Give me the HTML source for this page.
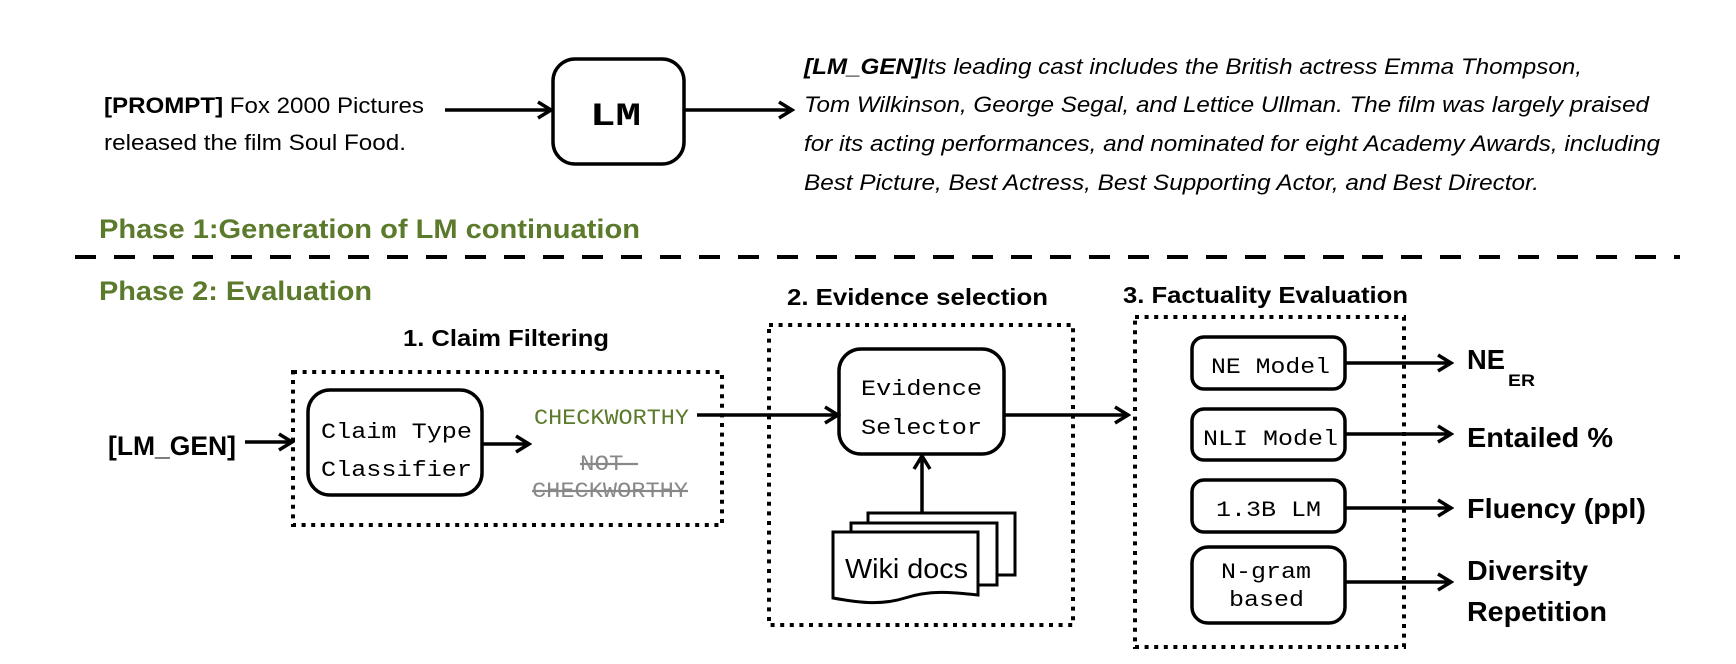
<!DOCTYPE html>
<html><head><meta charset="utf-8"><style>
html,body{margin:0;padding:0;background:#fff;}
svg{display:block;}
.s{font-family:"Liberation Sans",sans-serif;}
.m{font-family:"Liberation Mono",monospace;}
</style></head><body>
<svg width="1736" height="664" viewBox="0 0 1736 664" xmlns="http://www.w3.org/2000/svg">
<defs>
<marker id="a" markerWidth="18" markerHeight="20" refX="15" refY="10" orient="auto" markerUnits="userSpaceOnUse">
<polyline points="2,2 15,10 2,18" fill="none" stroke="#000" stroke-width="3.5"/>
</marker>
</defs>
<g fill="none" stroke="#000" stroke-width="3.5">
<rect x="553" y="59" width="131" height="105" rx="22"/>
<line x1="445" y1="110" x2="551" y2="110" marker-end="url(#a)"/>
<line x1="684" y1="110" x2="792" y2="110" marker-end="url(#a)"/>
<line x1="75" y1="257" x2="1680" y2="257" stroke-width="4" stroke-dasharray="21 18"/>
<rect x="293" y="372" width="429" height="153" stroke-width="4" stroke-dasharray="4 5.6"/>
<rect x="769" y="325" width="304" height="300" stroke-width="4" stroke-dasharray="4 5.6"/>
<rect x="1135" y="317" width="269" height="330" stroke-width="4" stroke-dasharray="4 5.6"/>
<line x1="245" y1="442" x2="292" y2="442" marker-end="url(#a)"/>
<rect x="308" y="390" width="174" height="105" rx="22"/>
<line x1="482" y1="444" x2="529" y2="444" marker-end="url(#a)"/>
<line x1="697" y1="415" x2="838" y2="415" marker-end="url(#a)"/>
<rect x="839" y="349" width="165" height="105" rx="22"/>
<line x1="922" y1="514" x2="922" y2="456" marker-end="url(#a)"/>
<line x1="1004" y1="415" x2="1128" y2="415" marker-end="url(#a)"/>
<g stroke-width="3" fill="#fff">
<rect x="868" y="513" width="147" height="62"/>
<rect x="851" y="523" width="146" height="62"/>
<path d="M833 532 H978 V595 C950 592 930 590 905 598 C880 606 855 602 833 598 Z"/>
</g>
<rect x="1192" y="337" width="153" height="52" rx="12"/>
<rect x="1192" y="409" width="153" height="51" rx="12"/>
<rect x="1192" y="480" width="153" height="52" rx="12"/>
<rect x="1192" y="547" width="153" height="76" rx="16"/>
<line x1="1345" y1="363" x2="1451" y2="363" marker-end="url(#a)"/>
<line x1="1345" y1="434" x2="1451" y2="434" marker-end="url(#a)"/>
<line x1="1345" y1="508" x2="1451" y2="508" marker-end="url(#a)"/>
<line x1="1345" y1="582" x2="1451" y2="582" marker-end="url(#a)"/>
</g>
<g class="s" font-size="22" fill="#000">
<text x="104" y="113" textLength="320" lengthAdjust="spacingAndGlyphs"><tspan font-weight="bold">[PROMPT]</tspan> Fox 2000 Pictures</text>
<text x="104" y="150" textLength="302" lengthAdjust="spacingAndGlyphs">released the film Soul Food.</text>
<g font-style="italic">
<text x="804" y="74" textLength="778" lengthAdjust="spacingAndGlyphs"><tspan font-weight="bold">[LM_GEN]</tspan>Its leading cast includes the British actress Emma Thompson,</text>
<text x="804" y="112" textLength="845" lengthAdjust="spacingAndGlyphs">Tom Wilkinson, George Segal, and Lettice Ullman. The film was largely praised</text>
<text x="804" y="151" textLength="856" lengthAdjust="spacingAndGlyphs">for its acting performances, and nominated for eight Academy Awards, including</text>
<text x="804" y="190" textLength="735" lengthAdjust="spacingAndGlyphs">Best Picture, Best Actress, Best Supporting Actor, and Best Director.</text>
</g>
<g font-weight="bold" fill="#5b7a2b" font-size="27">
<text x="99" y="238" textLength="541" lengthAdjust="spacingAndGlyphs">Phase 1:Generation of LM continuation</text>
<text x="99" y="300" textLength="273" lengthAdjust="spacingAndGlyphs">Phase 2: Evaluation</text>
</g>
<g font-weight="bold" font-size="23">
<text x="787" y="305" textLength="261" lengthAdjust="spacingAndGlyphs">2. Evidence selection</text>
<text x="1123" y="303" textLength="285" lengthAdjust="spacingAndGlyphs">3. Factuality Evaluation</text>
<text x="403" y="346" textLength="206" lengthAdjust="spacingAndGlyphs">1. Claim Filtering</text>
</g>
<text x="108" y="455" font-weight="bold" font-size="27" textLength="128" lengthAdjust="spacingAndGlyphs">[LM_GEN]</text>
<text x="845" y="578" font-size="28" textLength="123" lengthAdjust="spacingAndGlyphs">Wiki docs</text>
<g font-weight="bold" font-size="28">
<text x="1467" y="369" textLength="38" lengthAdjust="spacingAndGlyphs">NE</text>
<text x="1508" y="386" font-size="17" textLength="27" lengthAdjust="spacingAndGlyphs">ER</text>
<text x="1467" y="447" textLength="146" lengthAdjust="spacingAndGlyphs">Entailed %</text>
<text x="1467" y="518" textLength="179" lengthAdjust="spacingAndGlyphs">Fluency (ppl)</text>
<text x="1467" y="580" textLength="121" lengthAdjust="spacingAndGlyphs">Diversity</text>
<text x="1467" y="621" textLength="140" lengthAdjust="spacingAndGlyphs">Repetition</text>
</g>
</g>
<g class="m" font-size="22" fill="#000">
<text x="590" y="125" font-weight="bold" font-size="32" textLength="51" lengthAdjust="spacingAndGlyphs">LM</text>
<text x="321" y="438" textLength="151" lengthAdjust="spacingAndGlyphs">Claim Type</text>
<text x="321" y="476" textLength="151" lengthAdjust="spacingAndGlyphs">Classifier</text>
<text x="534" y="424" fill="#5b7a2b" textLength="155" lengthAdjust="spacingAndGlyphs">CHECKWORTHY</text>
<text x="580" y="470" fill="#888" text-decoration="line-through" textLength="58" lengthAdjust="spacingAndGlyphs">NOT-</text>
<text x="532" y="497" fill="#888" text-decoration="line-through" textLength="156" lengthAdjust="spacingAndGlyphs">CHECKWORTHY</text>
<text x="861" y="395" textLength="121" lengthAdjust="spacingAndGlyphs">Evidence</text>
<text x="861" y="434" textLength="121" lengthAdjust="spacingAndGlyphs">Selector</text>
<text x="1211" y="373" textLength="119" lengthAdjust="spacingAndGlyphs">NE Model</text>
<text x="1203" y="445" textLength="135" lengthAdjust="spacingAndGlyphs">NLI Model</text>
<text x="1216" y="516" textLength="105" lengthAdjust="spacingAndGlyphs">1.3B LM</text>
<text x="1221" y="578" textLength="90" lengthAdjust="spacingAndGlyphs">N-gram</text>
<text x="1229" y="606" textLength="75" lengthAdjust="spacingAndGlyphs">based</text>
</g>
</svg>
</body></html>
